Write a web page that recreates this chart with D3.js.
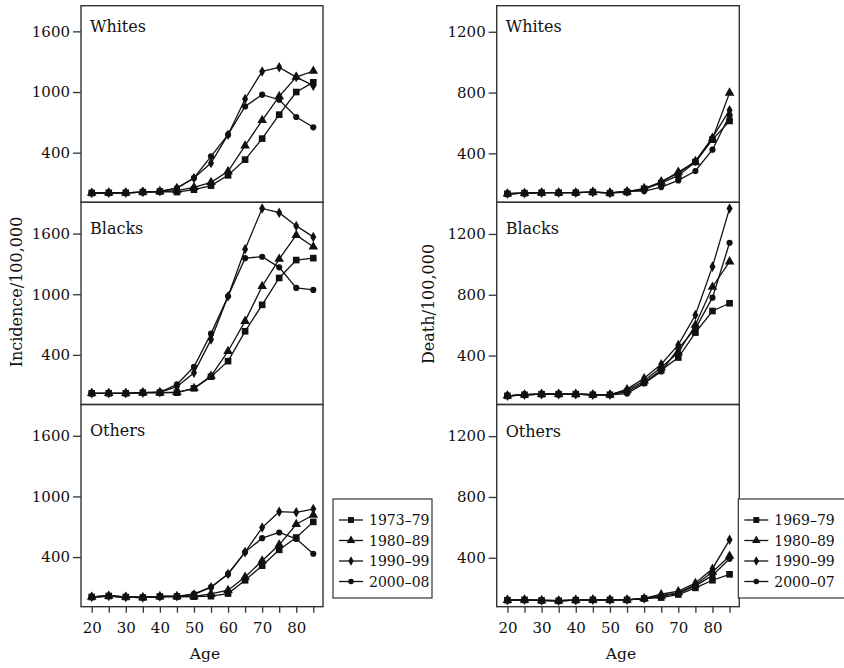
<!DOCTYPE html>
<html>
<head>
<meta charset="utf-8">
<script src="https://cdn.jsdelivr.net/npm/d3@7"></script>
<style>
  html, body { margin: 0; padding: 0; background: #fff; }
  svg { display: block; font-family: "DejaVu Serif", "Liberation Serif", serif; }
</style>
</head>
<body>
<svg id="chart" width="844" height="668"></svg>
<script>
// ---------- data ----------
const ages = [20, 25, 30, 35, 40, 45, 50, 55, 60, 65, 70, 75, 80, 85];
const groups = ["Whites", "Blacks", "Others"];
const incidencePeriods = ["1973–79", "1980–89", "1990–99", "2000–08"];
const deathPeriods = ["1969–79", "1980–89", "1990–99", "2000–07"];
const incidenceTicks = [400, 1000, 1600];
const deathTicks = [400, 800, 1200];
const ageTickLabels = [20, 30, 40, 50, 60, 70, 80];

// Incidence per 100,000 (left column)
const incWhites7379 = [1, 3, 3, 10, 16, 10, 34, 74, 176, 331, 539, 776, 1000, 1096];
const incWhites8089 = [1, 3, 3, 10, 16, 25, 57, 107, 215, 469, 720, 957, 1148, 1208];
const incWhites9099 = [1, 3, 3, 10, 18, 50, 150, 298, 578, 931, 1204, 1244, 1148, 1063];
const incWhites0008 = [1, 3, 3, 10, 18, 50, 150, 364, 578, 858, 974, 924, 753, 651];

const incBlacks7379 = [20, 20, 20, 26, 26, 26, 69, 184, 338, 633, 895, 1161, 1338, 1357];
const incBlacks8089 = [20, 20, 20, 26, 26, 30, 69, 190, 436, 734, 1079, 1348, 1584, 1469];
const incBlacks9099 = [20, 20, 20, 26, 30, 85, 223, 551, 980, 1446, 1849, 1807, 1676, 1567];
const incBlacks0008 = [20, 20, 20, 26, 30, 108, 282, 610, 980, 1357, 1371, 1266, 1062, 1043];

const incOthers7379 = [5, 15, 5, 0, 10, 10, 8, 13, 39, 170, 315, 472, 593, 748];
const incOthers8089 = [5, 15, 5, 0, 10, 10, 10, 36, 72, 203, 364, 521, 725, 816];
const incOthers9099 = [5, 15, 5, 0, 10, 12, 29, 102, 233, 449, 692, 849, 843, 875];
const incOthers0008 = [5, 15, 5, 0, 10, 12, 36, 102, 233, 449, 587, 643, 580, 433];

// Death per 100,000 (right column)
const dthWhites6979 = [134, 138, 141, 141, 141, 145, 138, 145, 167, 204, 255, 343, 490, 613];
const dthWhites8089 = [134, 138, 141, 141, 141, 145, 140, 148, 170, 211, 277, 343, 497, 798];
const dthWhites9099 = [134, 138, 141, 141, 141, 145, 140, 148, 160, 215, 270, 349, 503, 684];
const dthWhites0007 = [134, 138, 141, 141, 141, 145, 140, 152, 152, 178, 222, 284, 424, 651];

const dthBlacks6979 = [135, 142, 146, 146, 146, 142, 142, 163, 223, 304, 387, 551, 693, 744];
const dthBlacks8089 = [135, 142, 146, 146, 146, 142, 142, 172, 234, 321, 420, 601, 851, 1018];
const dthBlacks9099 = [135, 142, 146, 146, 146, 142, 142, 179, 251, 343, 470, 667, 985, 1368];
const dthBlacks0007 = [135, 142, 146, 146, 146, 142, 142, 150, 216, 295, 446, 577, 781, 1142];

const dthOthers6979 = [121, 123, 119, 117, 121, 123, 123, 123, 132, 138, 158, 202, 252, 291];
const dthOthers8089 = [121, 123, 119, 117, 121, 123, 123, 123, 132, 149, 171, 223, 306, 411];
const dthOthers9099 = [121, 123, 119, 117, 121, 123, 123, 123, 132, 160, 180, 234, 328, 518];
const dthOthers0007 = [121, 123, 119, 117, 121, 123, 123, 123, 132, 147, 165, 215, 284, 393];

const incidenceSeries = [
  [incWhites7379, incWhites8089, incWhites9099, incWhites0008],
  [incBlacks7379, incBlacks8089, incBlacks9099, incBlacks0008],
  [incOthers7379, incOthers8089, incOthers9099, incOthers0008]
];
const deathSeries = [
  [dthWhites6979, dthWhites8089, dthWhites9099, dthWhites0007],
  [dthBlacks6979, dthBlacks8089, dthBlacks9099, dthBlacks0007],
  [dthOthers6979, dthOthers8089, dthOthers9099, dthOthers0007]
];

// ---------- layout ----------
const svg = d3.select("#chart");
const symbols = [d3.symbolSquare, d3.symbolTriangle, d3.symbolDiamond, d3.symbolCircle];
const symbolSizes = [44, 40, 32, 30];
const ink = "#111";
const frameColor = "#333";

const panelH = 202.2;
const firstBottom = 202.3;
const firstTopClip = 5.7;
const xDomain = [16.86, 87.85];

const columns = [
  { x0: 81, x1: 323, vmin: -91, k: 0.10108, ticks: incidenceTicks, series: incidenceSeries,
    periods: incidencePeriods, title: "Incidence/100,000", titleX: 21.5, titleY: 292,
    ageX: 205, legendX: 333, legendW: 99 },
  { x0: 496.7, x1: 739.3, vmin: 78, k: 0.152, ticks: deathTicks, series: deathSeries,
    periods: deathPeriods, title: "Death/100,000", titleX: 434, titleY: 304,
    ageX: 621, legendX: 738.3, legendW: 120 }
];

columns.forEach(col => {
  const x = d3.scaleLinear().domain(xDomain).range([col.x0, col.x1]);
  const vmax = col.vmin + panelH / col.k;

  groups.forEach((g, r) => {
    const bottom = firstBottom + r * panelH;
    const top = bottom - panelH;
    const y = d3.scaleLinear().domain([col.vmin, vmax]).range([bottom, top]);
    const frameTop = r === 0 ? firstTopClip : top;
    const gp = svg.append("g");

    // series lines + markers
    col.series[r].forEach((vals, si) => {
      const pts = ages.map((a, i) => [a, vals[i]]);
      gp.append("path")
        .datum(pts)
        .attr("fill", "none")
        .attr("stroke", ink)
        .attr("stroke-width", 1.3)
        .attr("d", d3.line().x(d => x(d[0])).y(d => y(d[1])));
      gp.selectAll(null)
        .data(pts)
        .join("path")
        .attr("transform", d => `translate(${x(d[0])},${y(d[1])})`)
        .attr("d", d3.symbol().type(symbols[si]).size(symbolSizes[si]))
        .attr("fill", ink);
    });

    // frame
    gp.append("rect")
      .attr("x", col.x0).attr("y", frameTop)
      .attr("width", col.x1 - col.x0).attr("height", bottom - frameTop)
      .attr("fill", "none").attr("stroke", frameColor).attr("stroke-width", 1.4);

    // strip label
    gp.append("text")
      .attr("x", col.x0 + 9).attr("y", y(col.ticks[2]) + 0.5)
      .attr("font-size", 16).attr("fill", ink)
      .text(g);

    // y axis
    const ya = gp.append("g")
      .attr("transform", `translate(${col.x0},0)`)
      .call(d3.axisLeft(y).tickValues(col.ticks).tickSize(8).tickPadding(3).tickFormat(d3.format("d")));
    ya.select(".domain").remove();
    ya.selectAll("line").attr("stroke", frameColor).attr("stroke-width", 1.3);
    ya.selectAll("text").attr("font-size", 15).attr("fill", ink)
      .attr("font-family", "DejaVu Serif, serif");

    // x axis on bottom row
    if (r === groups.length - 1) {
      const xa = gp.append("g")
        .attr("transform", `translate(0,${bottom})`)
        .call(d3.axisBottom(x).tickValues(ages).tickSize(6).tickPadding(10)
          .tickFormat(d => ageTickLabels.includes(d) ? d : ""));
      xa.select(".domain").remove();
      xa.selectAll("line").attr("stroke", frameColor).attr("stroke-width", 1.3);
      xa.selectAll("text").attr("font-size", 15).attr("fill", ink)
        .attr("font-family", "DejaVu Serif, serif");

      svg.append("text")
        .attr("x", col.ageX).attr("y", bottom + 52)
        .attr("text-anchor", "middle").attr("font-size", 15.5).attr("fill", ink)
        .text("Age");
    }
  });

  // y title
  svg.append("text")
    .attr("transform", `translate(${col.titleX},${col.titleY}) rotate(-90)`)
    .attr("text-anchor", "middle").attr("font-size", 16).attr("fill", ink)
    .text(col.title);

  // legend
  const lg = svg.append("g");
  const rowY = [520, 540.5, 561, 581.5];
  lg.append("rect")
    .attr("x", col.legendX).attr("y", 499)
    .attr("width", col.legendW).attr("height", 99)
    .attr("fill", "#fff").attr("stroke", frameColor).attr("stroke-width", 1.2);
  col.periods.forEach((p, i) => {
    const lx = col.legendX + 6;
    lg.append("line")
      .attr("x1", lx).attr("x2", lx + 24)
      .attr("y1", rowY[i]).attr("y2", rowY[i])
      .attr("stroke", ink).attr("stroke-width", 1.3);
    lg.append("path")
      .attr("transform", `translate(${lx + 12},${rowY[i]})`)
      .attr("d", d3.symbol().type(symbols[i]).size(symbolSizes[i] * 0.8))
      .attr("fill", ink);
    lg.append("text")
      .attr("x", lx + 30).attr("y", rowY[i] + 5)
      .attr("font-size", 14).attr("fill", ink)
      .text(p);
  });
});
</script>
</body>
</html>
